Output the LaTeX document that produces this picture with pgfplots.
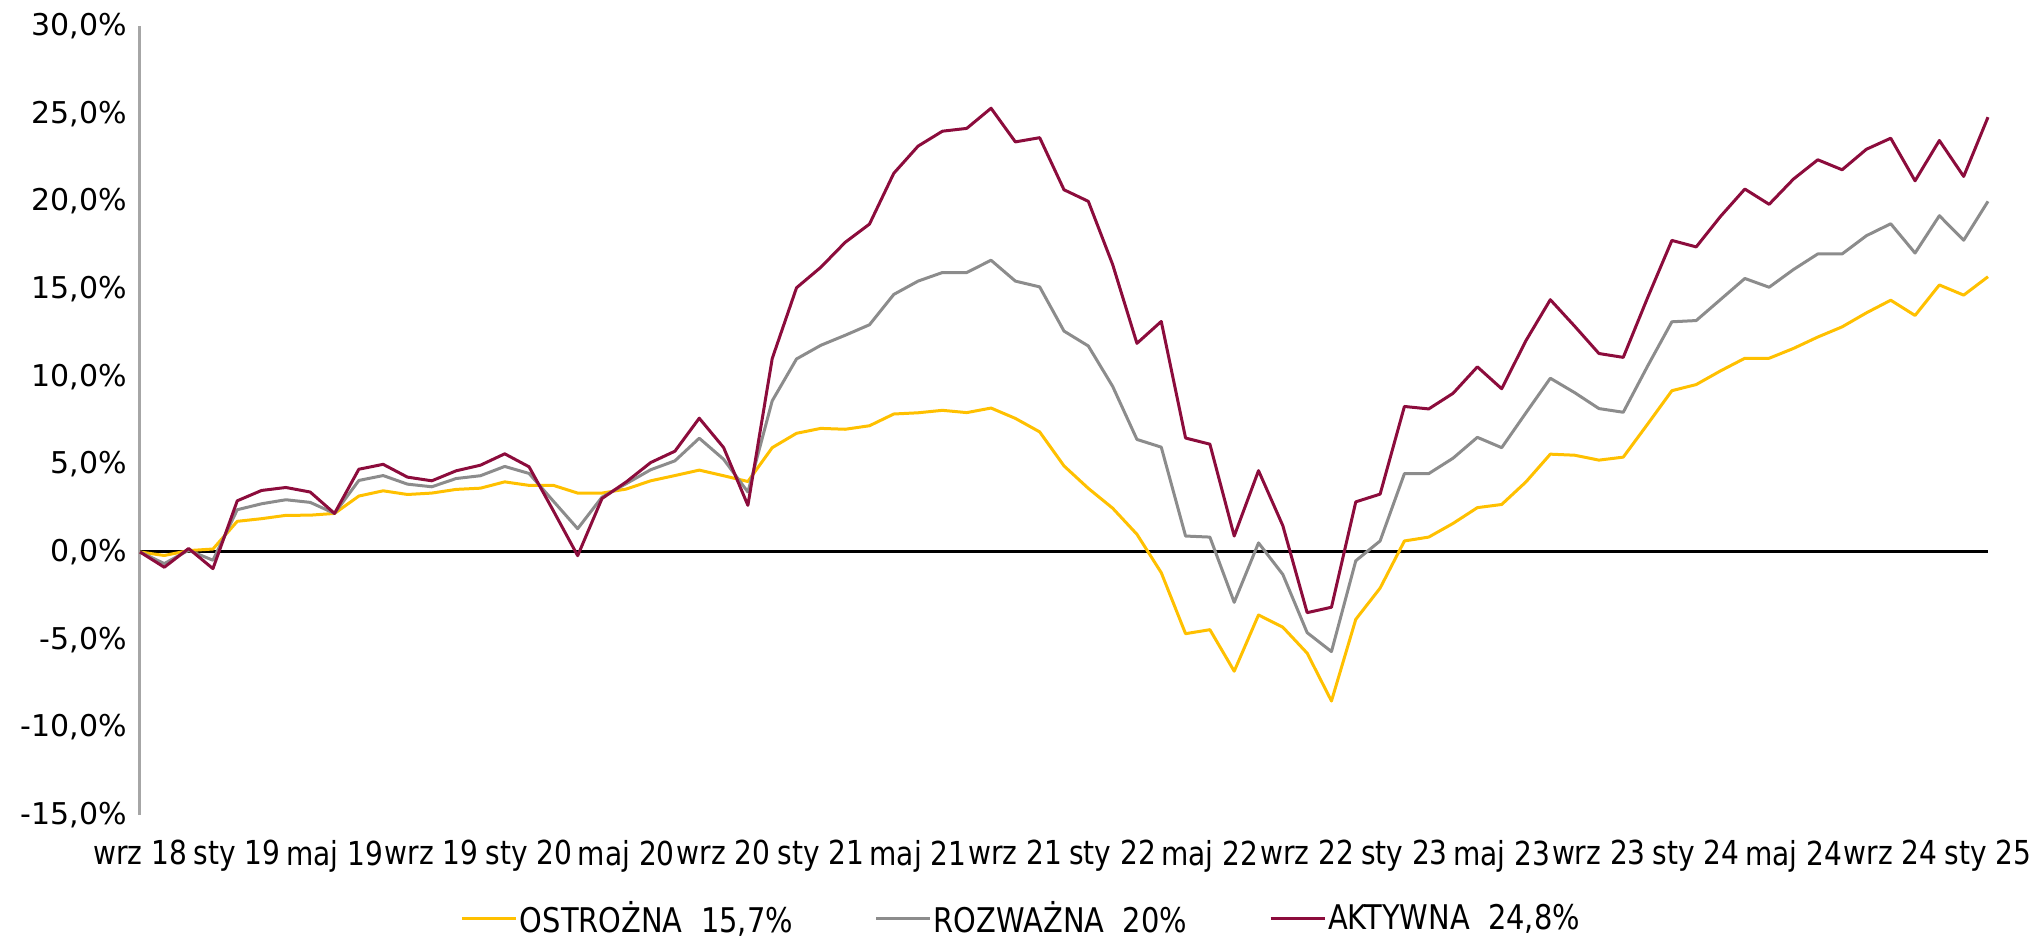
\documentclass[border=0pt]{standalone}
\usepackage{fontspec}
\setmainfont{DejaVu Sans}
\newfontfamily\condfont[FakeStretch=0.85]{DejaVu Sans}
\usepackage{pgfplots}
\pgfplotsset{compat=1.18}
\usepackage{pgfplotstable}

\definecolor{cyel}{HTML}{FFC000}
\definecolor{cgray}{HTML}{8C8C8C}
\definecolor{cred}{HTML}{8C0C3C}
\definecolor{caxis}{HTML}{A6A6A6}

\pgfplotstableread{
m ost roz akt
0 0 0 0
1 -0.2 -0.66 -0.87
2 0.08 0.1 0.2
3 0.17 -0.47 -0.95
4 1.75 2.41 2.92
5 1.9 2.75 3.51
6 2.09 2.98 3.68
7 2.1 2.83 3.42
8 2.2 2.2 2.2
9 3.19 4.08 4.72
10 3.49 4.36 5.0
11 3.28 3.87 4.27
12 3.36 3.72 4.06
13 3.57 4.19 4.63
14 3.64 4.35 4.95
15 4.0 4.88 5.6
16 3.8 4.48 4.86
17 3.8 2.9 2.35
18 3.36 1.33 -0.21
19 3.36 3.13 3.05
20 3.59 3.9 4.0
21 4.06 4.69 5.1
22 4.36 5.2 5.75
23 4.67 6.49 7.63
24 4.35 5.29 5.96
25 4.02 3.42 2.66
26 5.95 8.62 11.03
27 6.77 11.01 15.07
28 7.05 11.79 16.24
29 7.0 12.36 17.66
30 7.2 12.96 18.7
31 7.87 14.69 21.6
32 7.94 15.45 23.15
33 8.08 15.94 24.0
34 7.95 15.94 24.16
35 8.21 16.64 25.31
36 7.62 15.45 23.39
37 6.85 15.12 23.63
38 4.91 12.6 20.66
39 3.63 11.75 20.0
40 2.5 9.45 16.4
41 1.01 6.42 11.9
42 -1.18 5.98 13.15
43 -4.66 0.91 6.5
44 -4.43 0.85 6.15
45 -6.8 -2.87 0.91
46 -3.59 0.52 4.64
47 -4.29 -1.28 1.5
48 -5.77 -4.6 -3.46
49 -8.5 -5.68 -3.15
50 -3.84 -0.5 2.86
51 -2.06 0.63 3.3
52 0.63 4.47 8.3
53 0.85 4.47 8.16
54 1.63 5.35 9.05
55 2.53 6.54 10.56
56 2.71 5.95 9.31
57 4.0 7.94 12.06
58 5.58 9.91 14.39
59 5.52 9.09 12.88
60 5.24 8.18 11.32
61 5.41 7.97 11.1
62 7.29 10.6 14.5
63 9.2 13.13 17.77
64 9.55 13.2 17.4
65 10.33 14.4 19.14
66 11.05 15.6 20.7
67 11.05 15.1 19.83
68 11.61 16.11 21.27
69 12.26 17.0 22.37
70 12.84 17.0 21.8
71 13.64 18.04 22.97
72 14.36 18.72 23.6
73 13.49 17.05 21.17
74 15.23 19.18 23.47
75 14.65 17.78 21.42
76 15.7 20.0 24.8
}\datatable

\begin{document}
\begin{tikzpicture}
\useasboundingbox (-70pt,-61pt) rectangle (946.5pt,407.5pt);
\begin{axis}[
  at={(0,0)}, anchor=south west,
  scale only axis, width=924pt, height=394.5pt,
  xmin=0, xmax=76, ymin=-15, ymax=30,
  axis x line*=bottom, axis y line*=left,
  x axis line style={draw=none},
  y axis line style={-, draw=caxis, line width=1.5pt},
  major tick length=0pt,
  clip=false,
  ytick={-15,-10,...,30},
  yticklabel={\pgfmathprintnumber[fixed,fixed zerofill,precision=1,use comma,assume math mode=true]{\tick}\%},
  yticklabel style={font=\fontsize{15}{18}\selectfont, anchor=east, xshift=-3pt},
  xtick={0,4,...,76},
  xticklabels={wrz 18,sty 19,maj 19,wrz 19,sty 20,maj 20,wrz 20,sty 21,maj 21,wrz 21,sty 22,maj 22,wrz 22,sty 23,maj 23,wrz 23,sty 24,maj 24,wrz 24,sty 25},
  xticklabel style={font=\condfont\fontsize{16.5}{19}\selectfont, anchor=north, yshift=-9pt},
  legend columns=3,
  legend style={at={(0.477,-0.131)}, anchor=center, draw=none, fill=none,
    font=\condfont\fontsize{17}{20}\selectfont,
    /tikz/every even column/.append style={column sep=40pt},
    nodes={inner xsep=1pt}},
  legend image code/.code={\draw[#1, line width=1.5pt] (0pt,0pt) -- (27pt,0pt);},
  every axis plot/.append style={line width=1.5pt, line join=round},
]
\addplot[black, forget plot] coordinates {(0,0) (76,0)};
\addplot[cyel] table[x=m,y=ost]{\datatable};
\addlegendentry{OSTROŻNA\ \ 15,7\%}
\addplot[cgray] table[x=m,y=roz]{\datatable};
\addlegendentry{ROZWAŻNA\ \ 20\%}
\addplot[cred] table[x=m,y=akt]{\datatable};
\addlegendentry{AKTYWNA\ \ 24,8\%}
\end{axis}
\end{tikzpicture}
\end{document}
